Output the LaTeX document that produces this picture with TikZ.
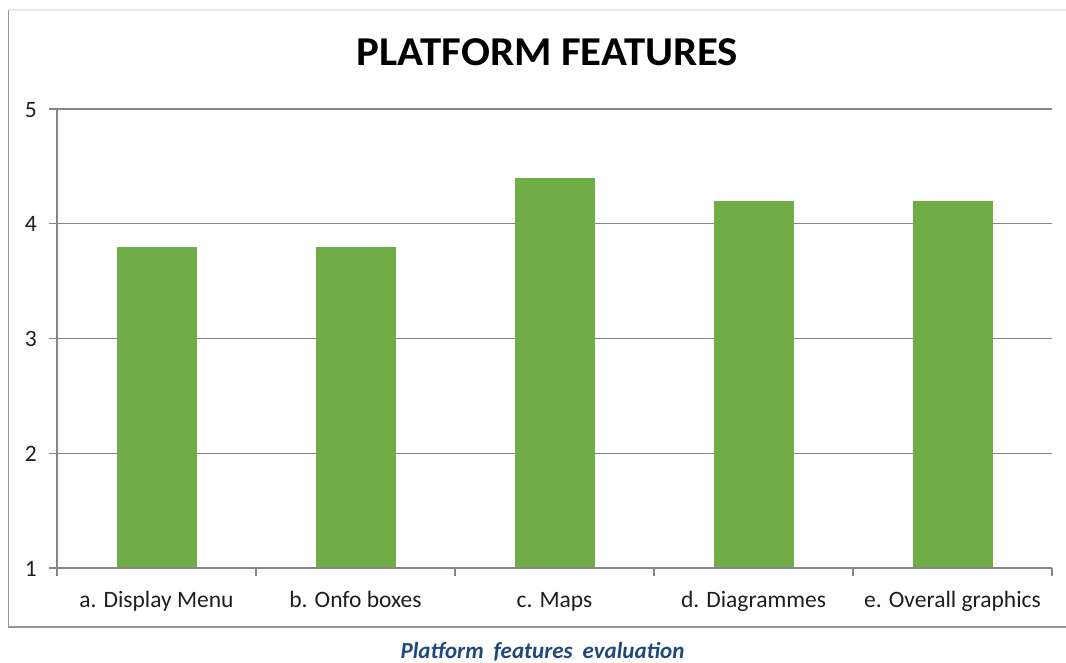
\documentclass[tikz,border=0pt]{standalone}
\usepackage{fontspec}
\setmainfont{Carlito}
\definecolor{bargreen}{RGB}{112,173,71}
\definecolor{gridgray}{RGB}{134,134,134}
\definecolor{framegray}{RGB}{150,150,150}
\definecolor{toplight}{RGB}{232,232,232}
\definecolor{capblue}{RGB}{31,73,125}
\definecolor{txt}{RGB}{30,30,30}
\tikzset{
  gridline/.style={draw=gridgray, line width=1.2pt},
  barbox/.style={fill=bargreen, draw=none},
  ylab/.style={anchor=base east, font=\fontsize{23.5}{26}\selectfont, text=txt, inner sep=0pt},
  xlab/.style={anchor=base, font=\fontsize{23.5}{26}\selectfont, text=txt, inner sep=0pt},
}
\begin{document}
\begin{tikzpicture}[x=1pt,y=-1pt]
\useasboundingbox (0,0) rectangle (1066,662);
% chart frame
\draw[toplight, line width=1.5pt] (8.5,10) -- (1066,10);
\draw[framegray, line width=1.5pt] (8.5,10) -- (8.5,627) -- (1066,627);
% title
\node[font=\bfseries\fontsize{41}{44}\selectfont, anchor=base, inner sep=0pt, xscale=1.045] (title) at (547.5,65) {PLATFORM FEATURES};
% gridlines
\foreach \v/\nm in {5/five,4/four,3/three,2/two}{
  \pgfmathsetmacro{\yy}{568-(\v-1)*114.75}
  \coordinate (gl\nm) at (49,\yy);
  \coordinate (gr\nm) at (1052,\yy);
  \draw[gridline] (gl\nm) -- (gr\nm);
  \node[ylab] (lab\nm) at (37,\yy+8) {\v};
}
\coordinate (axl) at (49,568);
\coordinate (axr) at (1052,568);
\coordinate (yax) at (57,109);
\coordinate (org) at (57,568);
\node[ylab] (labone) at (37,576) {1};
% bars
\foreach \i/\val in {0/3.8,1/3.8,2/4.4,3/4.2,4/4.2}{
  \pgfmathsetmacro{\xc}{156.5+199*\i}
  \pgfmathsetmacro{\ytop}{568-(\val-1)*114.75}
  \fill[bargreen] (\xc-40,\ytop) rectangle (\xc+40,568);
}
\draw[gridline] (axl) -- (axr);
\draw[gridline] (yax) -- (org);
\foreach \i in {0,...,5}{
  \pgfmathsetmacro{\xt}{57+199*\i}
  \coordinate (tk\i) at (\xt,568);
  \draw[gridline] (tk\i) -- ++(0,8);
}
% category labels
\node[xlab] (ca) at (156.5,607) {a. Display Menu};
\node[xlab] (cb) at (355.5,607) {b. Onfo boxes};
\node[xlab] (cc) at (554.5,607) {c. Maps};
\node[xlab] (cd) at (753.5,607) {d. Diagrammes};
\node[xlab] (ce) at (952.5,607) {e. Overall graphics};
% caption
\node[font=\bfseries\itshape\fontsize{23}{26}\selectfont, text=capblue, anchor=base, inner sep=0pt] (cap) at (542.5,658) {Platform\hspace{10pt}features\hspace{10pt}evaluation};
\end{tikzpicture}
\end{document}
